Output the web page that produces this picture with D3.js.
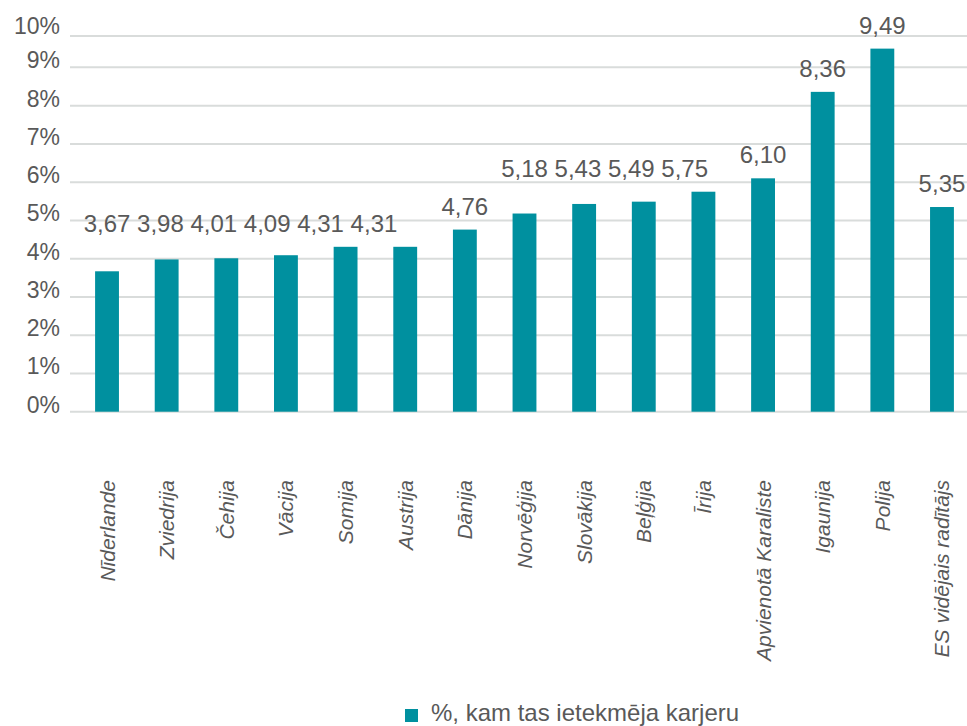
<!DOCTYPE html>
<html>
<head>
<meta charset="utf-8">
<script src="https://cdn.jsdelivr.net/npm/d3@7"></script>
<style>
  html, body { margin: 0; padding: 0; background: #ffffff; }
  svg { display: block; font-family: "Liberation Sans", Arial, sans-serif; }
</style>
</head>
<body>
<svg id="chart" width="967" height="726"></svg>
<script>
// ---- data ----
const categories = ["Nīderlande", "Zviedrija", "Čehija", "Vācija", "Somija", "Austrija", "Dānija",
  "Norvēģija", "Slovākija", "Beļģija", "Īrija", "Apvienotā Karaliste", "Igaunija", "Polija",
  "ES vidējais radītājs"];
const values = [3.67, 3.98, 4.01, 4.09, 4.31, 4.31, 4.76, 5.18, 5.43, 5.49, 5.75, 6.10, 8.36, 9.49, 5.35];
const valueLabels = ["3,67", "3,98", "4,01", "4,09", "4,31", "4,31", "4,76", "5,18", "5,43", "5,49",
  "5,75", "6,10", "8,36", "9,49", "5,35"];
const yTicks = [0, 1, 2, 3, 4, 5, 6, 7, 8, 9];
const yTickLabels = ["0%", "1%", "2%", "3%", "4%", "5%", "6%", "7%", "8%", "9%"];
const axisTop = 9.82;          // value at top gridline of the plot
const axisTopLabel = "10%";
const seriesName = "%, kam tas ietekmēja karjeru";
// data labels that share a row (indices into categories)
const labelRows = [[0, 1, 2, 3, 4, 5], [7, 8, 9, 10]];

// ---- layout ----
const svg = d3.select("#chart");
const barColor = "#00909f";
const textColor = "#595959";
const gridColor = "#d9dcdb";
const font = "'Liberation Sans', Arial, sans-serif";

const plotLeft = 70, plotRight = 967;
const y = d3.scaleLinear().domain([0, axisTop]).range([411.7, 36]);
const x = d3.scaleBand().domain(categories).range([77.2, 971.8]).paddingInner(0.6).paddingOuter(0.3);

// gridlines
const gridVals = yTicks.concat([axisTop]);
svg.append("g").selectAll("line").data(gridVals).join("line")
  .attr("x1", plotLeft).attr("x2", plotRight)
  .attr("y1", d => y(d)).attr("y2", d => y(d))
  .attr("stroke", gridColor).attr("stroke-width", 2);

// y axis labels
const yAxis = d3.axisLeft(y).tickValues(yTicks).tickFormat((d, i) => yTickLabels[i]).tickSize(0).tickPadding(0);
const yg = svg.append("g").attr("transform", "translate(60,-7)").call(yAxis);
yg.select(".domain").remove();
yg.selectAll("text").attr("fill", textColor).style("font-size", "23px").style("font-family", font);
svg.append("text").attr("x", 60).attr("y", y(axisTop) - 10).attr("text-anchor", "end")
  .attr("dominant-baseline", "central").attr("fill", textColor).style("font-size", "23px")
  .text(axisTopLabel);

// bars
svg.append("g").selectAll("rect").data(values).join("rect")
  .attr("x", (d, i) => x(categories[i]))
  .attr("width", x.bandwidth())
  .attr("y", d => y(d))
  .attr("height", d => y(0) - y(d))
  .attr("fill", barColor);

// category labels (rotated)
const xg = svg.append("g");
xg.selectAll("text").data(categories).join("text")
  .attr("transform", d => `translate(${x(d) + x.bandwidth() / 2},480) rotate(-90)`)
  .attr("text-anchor", "end")
  .attr("dominant-baseline", "central")
  .attr("fill", textColor)
  .style("font-size", "21px")
  .style("font-style", "italic")
  .text(d => d);

// data labels
const labelGap = 15;
const lg = svg.append("g");
const labels = lg.selectAll("text").data(values).join("text")
  .attr("fill", textColor)
  .style("font-size", "24px")
  .attr("text-anchor", "middle")
  .attr("x", (d, i) => x(categories[i]) + x.bandwidth() / 2)
  .attr("y", d => y(d) - labelGap)
  .text((d, i) => valueLabels[i]);

// measure a space
const probe = lg.append("text").style("font-size", "24px").text("0 0");
const probe2 = lg.append("text").style("font-size", "24px").text("00");
const spaceW = probe.node().getComputedTextLength() - probe2.node().getComputedTextLength();
probe.remove(); probe2.remove();

const nodes = labels.nodes();
labelRows.forEach(row => {
  const rowY = d3.min(row, i => y(values[i])) - labelGap;
  let cursor = null;
  row.forEach((i, k) => {
    const n = nodes[i];
    const w = n.getComputedTextLength();
    if (k === 0) cursor = x(categories[i]) + x.bandwidth() / 2 - w / 2;
    d3.select(n).attr("text-anchor", "start").attr("x", cursor).attr("y", rowY);
    cursor += w + spaceW;
  });
});

// legend
const leg = svg.append("g");
leg.append("rect").attr("x", 405).attr("y", 709).attr("width", 13).attr("height", 13).attr("fill", barColor);
leg.append("text").attr("x", 431).attr("y", 721).attr("fill", textColor)
  .style("font-size", "24px").text(seriesName);
</script>
</body>
</html>
